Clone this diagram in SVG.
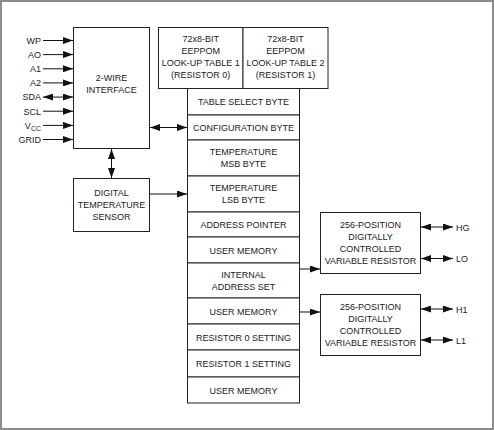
<svg xmlns="http://www.w3.org/2000/svg" width="494" height="430" viewBox="0 0 494 430">
<defs>
<marker id="ah" markerUnits="userSpaceOnUse" markerWidth="10" markerHeight="7" refX="10" refY="3.5" orient="auto-start-reverse">
<path d="M0,0 L10,3.5 L0,7 z" fill="#111"/>
</marker>
<style>
.box{fill:#fff;stroke:#222;stroke-width:1}
.t{font-family:"Liberation Sans",Arial,sans-serif;font-size:9px;fill:#222;text-anchor:middle}
.l{font-family:"Liberation Sans",Arial,sans-serif;font-size:9px;fill:#222;text-anchor:end}
.r{font-family:"Liberation Sans",Arial,sans-serif;font-size:9px;fill:#222;text-anchor:start}
.c{stroke:#111;stroke-width:1;fill:none;marker-end:url(#ah)}
.d{stroke:#111;stroke-width:1;fill:none;marker-end:url(#ah);marker-start:url(#ah)}
</style>
</defs>
<rect x="1" y="1" width="492" height="428" fill="#fff" stroke="#8c8c8c" stroke-width="2"/>

<g id="twowire">
<rect class="box" x="73.5" y="27.5" width="76" height="121"/>
<text class="t" x="111.5" y="81">2-WIRE</text>
<text class="t" x="111.5" y="93">INTERFACE</text>
</g>

<g id="pins">
<text class="l" x="41" y="43.8">WP</text>
<text class="l" x="41" y="57.9">AO</text>
<text class="l" x="41" y="72.1">A1</text>
<text class="l" x="41" y="86.2">A2</text>
<text class="l" x="41" y="100.4">SDA</text>
<text class="l" x="41" y="114.5">SCL</text>
<text class="l" x="41" y="128.7">V<tspan font-size="7" dy="2">CC</tspan></text>
<text class="l" x="41" y="142.8">GRID</text>
</g>

<g id="sensor">
<rect class="box" x="73.5" y="178.5" width="76" height="53"/>
<text class="t" x="111.5" y="196.3">DIGITAL</text>
<text class="t" x="111.5" y="208.3">TEMPERATURE</text>
<text class="t" x="111.5" y="220.3">SENSOR</text>
</g>

<g id="lut1">
<rect class="box" x="158.5" y="27.5" width="84.5" height="61"/>
<text class="t" x="200.7" y="41.8">72x8-BIT</text>
<text class="t" x="200.7" y="53.8">EEPPOM</text>
<text class="t" x="200.7" y="65.8">LOOK-UP TABLE 1</text>
<text class="t" x="200.7" y="77.8">(RESISTOR 0)</text>
</g>
<g id="lut2">
<rect class="box" x="243" y="27.5" width="85" height="61"/>
<text class="t" x="285.5" y="41.8">72x8-BIT</text>
<text class="t" x="285.5" y="53.8">EEPPOM</text>
<text class="t" x="285.5" y="65.8">LOOK-UP TABLE 2</text>
<text class="t" x="285.5" y="77.8">(RESISTOR 1)</text>
</g>

<g id="stack">
<rect class="box" x="187.5" y="88.5" width="112" height="26.5"/>
<text class="t" x="243.5" y="105">TABLE SELECT BYTE</text>
<rect class="box" x="187.5" y="115" width="112" height="25"/>
<text class="t" x="243.5" y="131">CONFIGURATION BYTE</text>
<rect class="box" x="187.5" y="140" width="112" height="36"/>
<text class="t" x="243.5" y="155.3">TEMPERATURE</text>
<text class="t" x="243.5" y="167.3">MSB BYTE</text>
<rect class="box" x="187.5" y="176" width="112" height="36"/>
<text class="t" x="243.5" y="191.3">TEMPERATURE</text>
<text class="t" x="243.5" y="203.3">LSB BYTE</text>
<rect class="box" x="187.5" y="212" width="112" height="25"/>
<text class="t" x="243.5" y="228">ADDRESS POINTER</text>
<rect class="box" x="187.5" y="237" width="112" height="26"/>
<text class="t" x="243.5" y="253.5">USER MEMORY</text>
<rect class="box" x="187.5" y="263" width="112" height="35"/>
<text class="t" x="243.5" y="277.8">INTERNAL</text>
<text class="t" x="243.5" y="289.8">ADDRESS SET</text>
<rect class="box" x="187.5" y="298" width="112" height="26"/>
<text class="t" x="243.5" y="314.5">USER MEMORY</text>
<rect class="box" x="187.5" y="324" width="112" height="26"/>
<text class="t" x="243.5" y="340.5">RESISTOR 0 SETTING</text>
<rect class="box" x="187.5" y="350" width="112" height="27"/>
<text class="t" x="243.5" y="367">RESISTOR 1 SETTING</text>
<rect class="box" x="187.5" y="377" width="112" height="26"/>
<text class="t" x="243.5" y="393.5">USER MEMORY</text>
</g>

<g id="res1">
<rect class="box" x="320.5" y="212.5" width="100" height="61"/>
<text class="t" x="370.5" y="227.8">256-POSITION</text>
<text class="t" x="370.5" y="239.8">DIGITALLY</text>
<text class="t" x="370.5" y="251.8">CONTROLLED</text>
<text class="t" x="370.5" y="263.8">VARIABLE RESISTOR</text>
</g>
<g id="res2">
<rect class="box" x="320.5" y="294.5" width="100" height="61"/>
<text class="t" x="370.5" y="309.8">256-POSITION</text>
<text class="t" x="370.5" y="321.8">DIGITALLY</text>
<text class="t" x="370.5" y="333.8">CONTROLLED</text>
<text class="t" x="370.5" y="345.8">VARIABLE RESISTOR</text>
</g>

<g id="outlabels">
<text class="r" x="456" y="230.5">HG</text>
<text class="r" x="456" y="262">LO</text>
<text class="r" x="456" y="312.5">H1</text>
<text class="r" x="456" y="343.5">L1</text>
</g>

<g id="connectors">
<line class="c" x1="43" y1="40.5" x2="73" y2="40.5"/>
<line class="c" x1="43" y1="54.6" x2="73" y2="54.6"/>
<line class="c" x1="43" y1="68.8" x2="73" y2="68.8"/>
<line class="c" x1="43" y1="82.9" x2="73" y2="82.9"/>
<line class="d" x1="43" y1="97.1" x2="73" y2="97.1"/>
<line class="c" x1="43" y1="111.2" x2="73" y2="111.2"/>
<line class="c" x1="43" y1="125.4" x2="73" y2="125.4"/>
<line class="c" x1="43" y1="139.5" x2="73" y2="139.5"/>
<line class="d" x1="150" y1="127.5" x2="187" y2="127.5"/>
<line class="d" x1="111.5" y1="149" x2="111.5" y2="178"/>
<line class="c" x1="150" y1="194" x2="187" y2="194"/>
<line class="c" x1="300" y1="269" x2="320" y2="269"/>
<line class="c" x1="300" y1="312" x2="320" y2="312"/>
<line class="d" x1="421" y1="227" x2="453" y2="227"/>
<line class="d" x1="421" y1="258.5" x2="453" y2="258.5"/>
<line class="d" x1="421" y1="309" x2="453" y2="309"/>
<line class="d" x1="421" y1="340" x2="453" y2="340"/>
</g>
</svg>
